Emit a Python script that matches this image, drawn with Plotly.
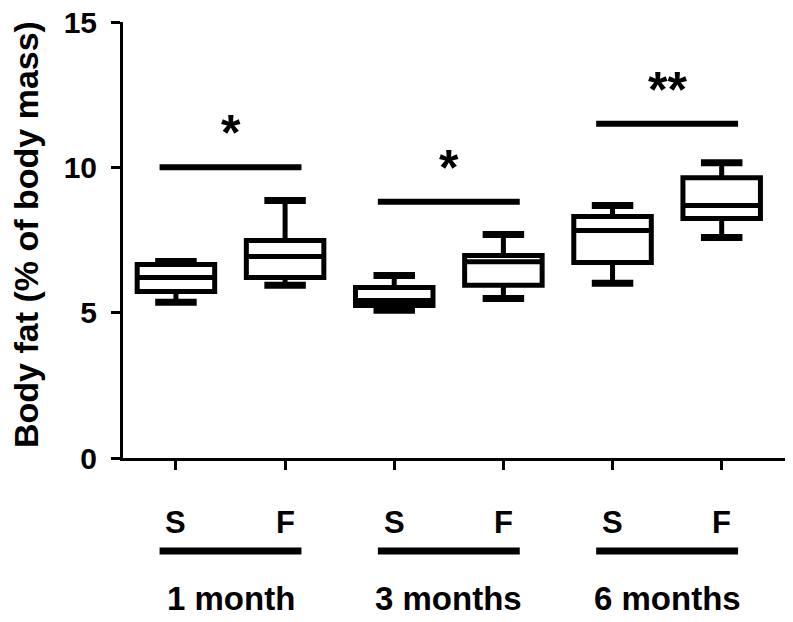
import plotly.graph_objects as go

# ---- data ----
box_labels = ["S", "F", "S", "F", "S", "F"]
group_labels = ["1 month", "3 months", "6 months"]
lower_whisker = [5.36, 5.94, 5.08, 5.49, 6.01, 7.59]
q1_vals = [5.73, 6.21, 5.25, 5.94, 6.73, 8.24]
median_vals = [6.21, 6.93, 5.42, 6.75, 7.83, 8.69]
q3_vals = [6.66, 7.48, 5.87, 6.97, 8.31, 9.64]
upper_whisker = [6.76, 8.86, 6.28, 7.69, 8.69, 10.16]
sig_heights = [10.0, 8.82, 11.5]
sig_labels = ["*", "*", "**"]
y_ticks = [0, 5, 10, 15]

FONT = "Liberation Sans, Arial, sans-serif"
positions = list(range(len(box_labels)))
box_w = 0.71
cap_half = 0.19

fig = go.Figure()

for i, p in enumerate(positions):
    fig.add_trace(go.Box(
        x=[p], q1=[q1_vals[i]], median=[median_vals[i]], q3=[q3_vals[i]],
        lowerfence=[lower_whisker[i]], upperfence=[upper_whisker[i]],
        width=box_w, line=dict(color="black", width=5), fillcolor="white",
        boxpoints=False, showlegend=False, hoverinfo="skip"))

# whisker caps
cx, cy = [], []
for i, p in enumerate(positions):
    for v in (lower_whisker[i], upper_whisker[i]):
        cx += [p - cap_half, p + cap_half, None]
        cy += [v, v, None]
fig.add_trace(go.Scatter(x=cx, y=cy, mode="lines", line=dict(color="black", width=7),
                         showlegend=False, hoverinfo="skip"))

# significance bars
sx, sy = [], []
for g, h in enumerate(sig_heights):
    a, b = positions[2 * g], positions[2 * g + 1]
    sx += [a - 0.15, b + 0.15, None]
    sy += [h, h, None]
fig.add_trace(go.Scatter(x=sx, y=sy, mode="lines", line=dict(color="black", width=6),
                         showlegend=False, hoverinfo="skip"))

annotations = []
for g, (h, s) in enumerate(zip(sig_heights, sig_labels)):
    mid = (positions[2 * g] + positions[2 * g + 1]) / 2
    annotations.append(dict(x=mid, y=h, xref="x", yref="y", text="<b>%s</b>" % s, showarrow=False,
                            yanchor="middle", yshift=34,
                            font=dict(family=FONT, size=50, color="black")))

# category labels S / F
for p, lab in zip(positions, box_labels):
    annotations.append(dict(x=p, y=0, xref="x", yref="paper", text="<b>%s</b>" % lab,
                            showarrow=False, yanchor="middle", yshift=-64,
                            font=dict(family=FONT, size=31, color="black")))

shapes = []
for g, lab in enumerate(group_labels):
    a, b = positions[2 * g], positions[2 * g + 1]
    annotations.append(dict(x=(a + b) / 2, y=0, xref="x", yref="paper", text="<b>%s</b>" % lab,
                            showarrow=False, yanchor="middle", yshift=-140,
                            font=dict(family=FONT, size=33, color="black")))
    shapes.append(dict(type="line", xref="x", yref="paper", ysizemode="pixel", yanchor=0,
                       x0=a - 0.15, x1=b + 0.15, y0=-93, y1=-93,
                       line=dict(color="black", width=7)))

annotations.append(dict(x=0, y=0.5, xref="paper", yref="paper",
                        text="<b>Body fat (% of body mass)</b>", textangle=-90,
                        showarrow=False, xanchor="center", yanchor="middle",
                        xshift=-97, yshift=5,
                        font=dict(family=FONT, size=34, color="black")))

fig.update_layout(
    width=785, height=614,
    margin=dict(l=115, r=8, t=14, b=164, autoexpand=False),
    plot_bgcolor="white", paper_bgcolor="white",
    annotations=annotations, shapes=shapes,
    xaxis=dict(range=[-0.485, 5.58], tickvals=positions, ticktext=[""] * len(positions),
               ticks="outside", ticklen=9, tickwidth=3, tickcolor="black",
               showline=True, linewidth=3, linecolor="black", showgrid=False,
               zeroline=False, fixedrange=True, automargin=False),
    yaxis=dict(range=[0, 15], tickvals=y_ticks, ticktext=["<b>%d</b>" % t for t in y_ticks],
               ticks="outside", ticklen=9, tickwidth=3, tickcolor="black",
               ticklabelstandoff=8, ticklabeloverflow="allow", automargin=False,
               showline=True, linewidth=3, linecolor="black", showgrid=False,
               zeroline=False, tickfont=dict(family=FONT, size=30, color="black"),
               fixedrange=True),
)

fig.write_html("out.html")
